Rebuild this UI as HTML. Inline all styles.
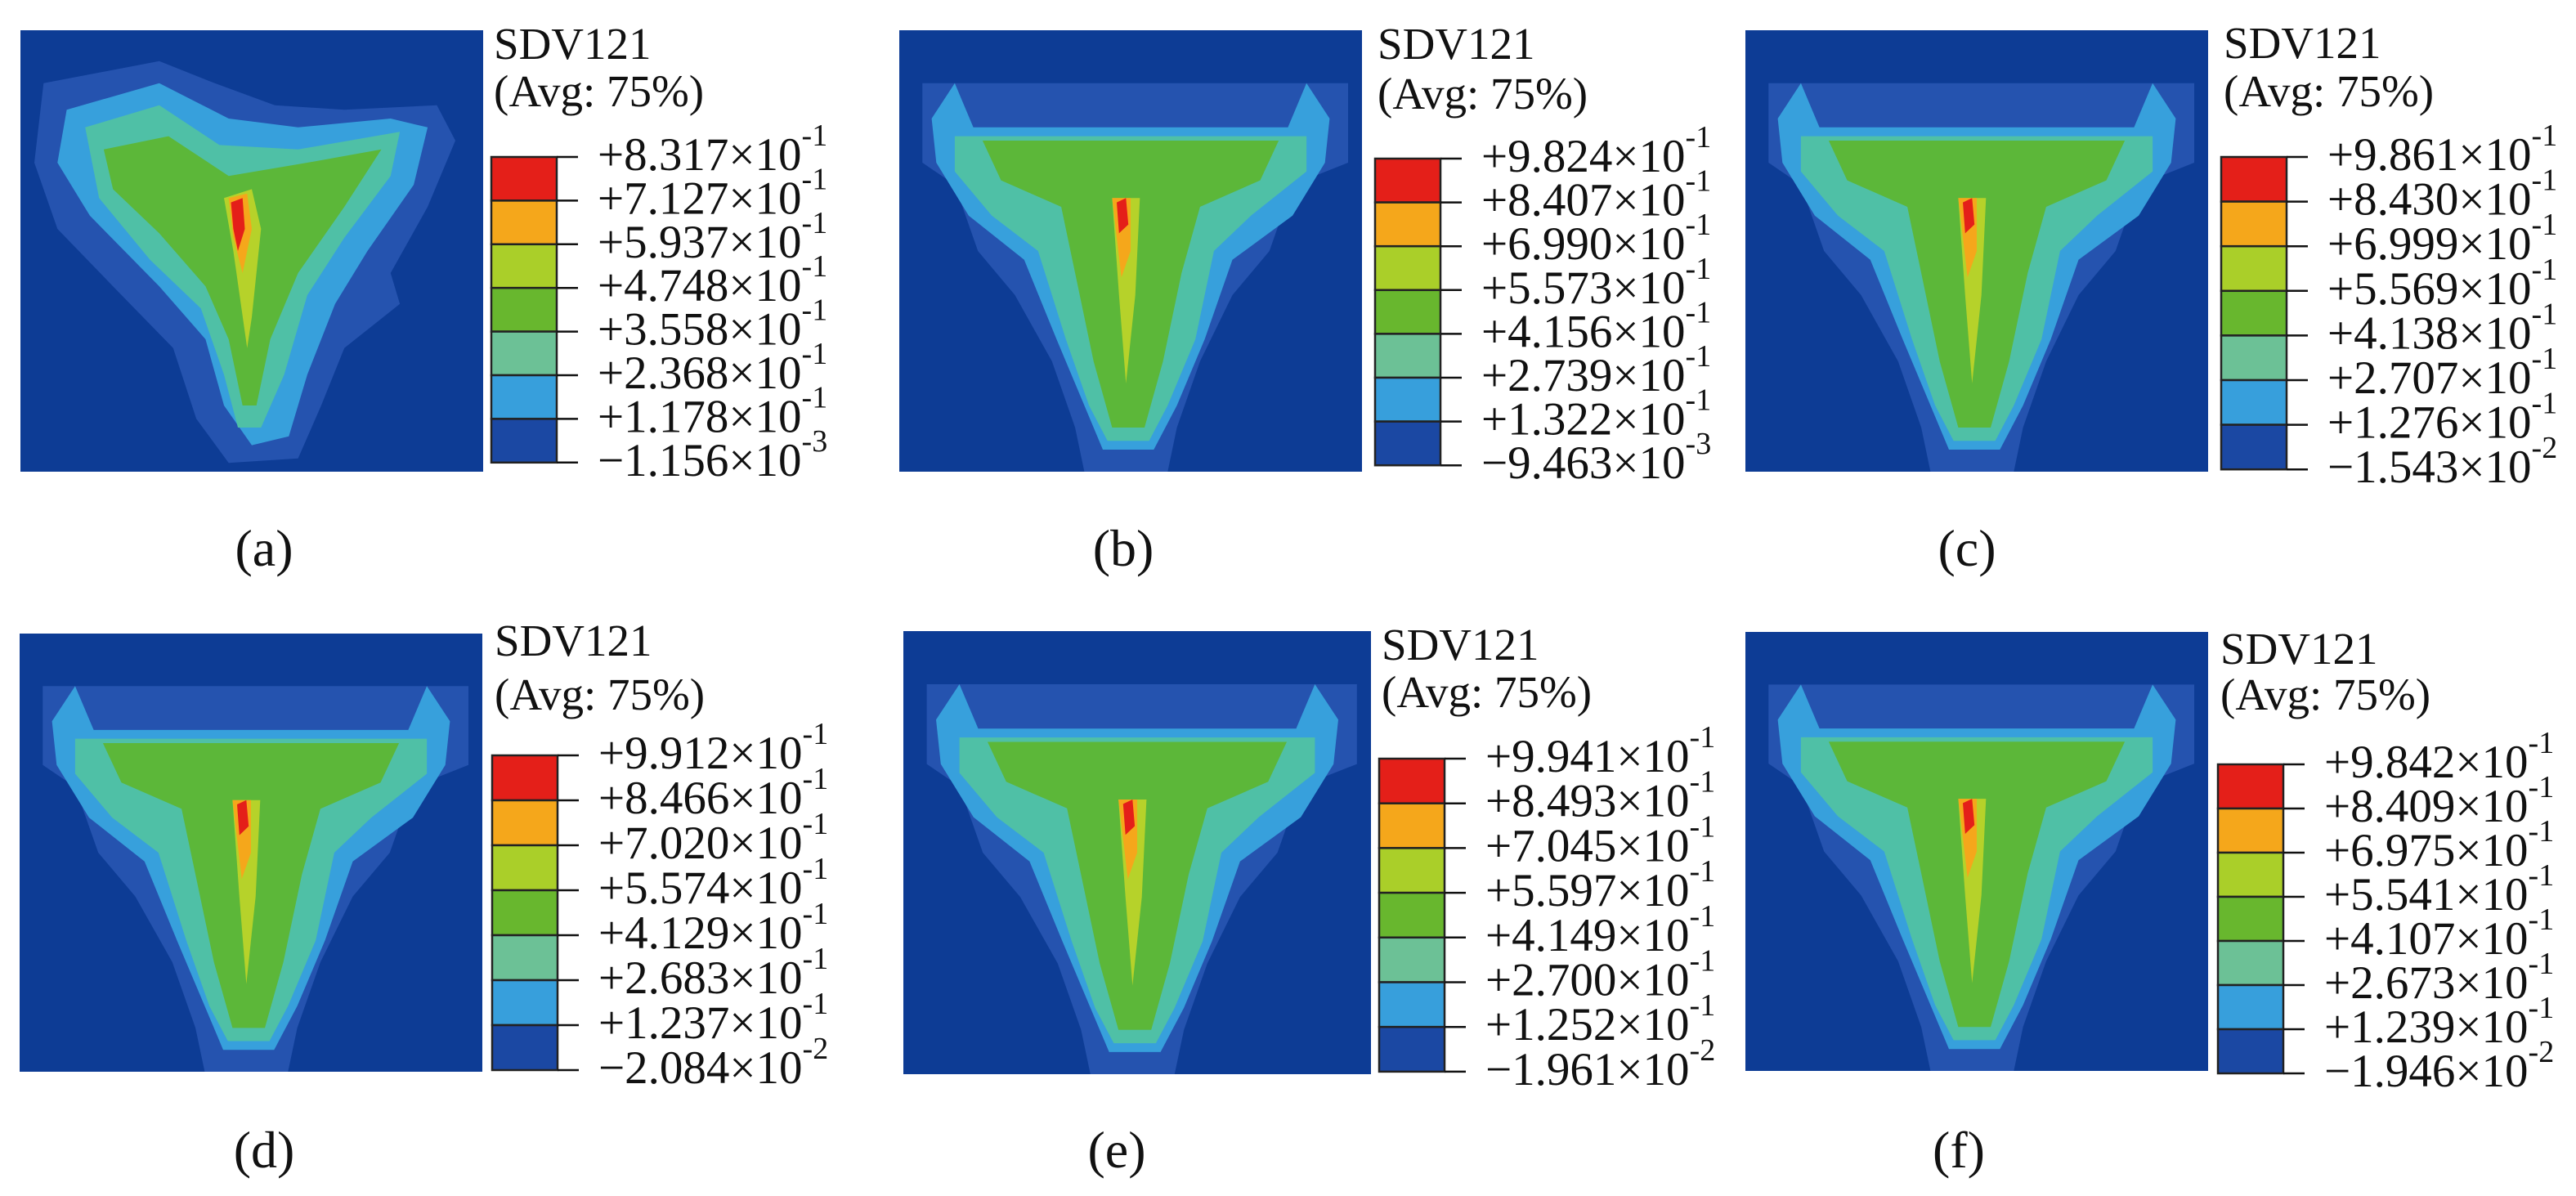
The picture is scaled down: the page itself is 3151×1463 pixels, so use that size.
<!DOCTYPE html>
<html><head><meta charset="utf-8">
<style>
html,body{margin:0;padding:0;background:#fff;}
svg{display:block;}
svg text{font-family:"Liberation Serif","Times New Roman","DejaVu Serif",serif;fill:#111;}
</style></head>
<body>
<svg id="fig" width="3151" height="1463" viewBox="0 0 3151 1463" xmlns="http://www.w3.org/2000/svg"></svg>
<script>
// ---- legend data (per panel) ----
const labelsA = ["+8.317","+7.127","+5.937","+4.748","+3.558","+2.368","+1.178","\u22121.156"];
const expsA   = ["-1","-1","-1","-1","-1","-1","-1","-3"];
const labelsB = ["+9.824","+8.407","+6.990","+5.573","+4.156","+2.739","+1.322","\u22129.463"];
const expsB   = ["-1","-1","-1","-1","-1","-1","-1","-3"];
const labelsC = ["+9.861","+8.430","+6.999","+5.569","+4.138","+2.707","+1.276","\u22121.543"];
const expsC   = ["-1","-1","-1","-1","-1","-1","-1","-2"];
const labelsD = ["+9.912","+8.466","+7.020","+5.574","+4.129","+2.683","+1.237","\u22122.084"];
const expsD   = ["-1","-1","-1","-1","-1","-1","-1","-2"];
const labelsE = ["+9.941","+8.493","+7.045","+5.597","+4.149","+2.700","+1.252","\u22121.961"];
const expsE   = ["-1","-1","-1","-1","-1","-1","-1","-2"];
const labelsF = ["+9.842","+8.409","+6.975","+5.541","+4.107","+2.673","+1.239","\u22121.946"];
const expsF   = ["-1","-1","-1","-1","-1","-1","-1","-2"];
const captions = ["(a)","(b)","(c)","(d)","(e)","(f)"];
const levelColors = ["#e41f19","#f5a71b","#aacf29","#68b72e","#6cc196","#379fdc","#1b48a3"];

// ---- contour shapes in normalized plot coords ----
const shapeY = [
 {c:"#2553af",p:[[0.05,0.12],[0.3,0.07],[0.42,0.12],[0.55,0.17],[0.7,0.18],[0.9,0.17],[0.94,0.25],[0.88,0.4],[0.8,0.55],[0.82,0.62],[0.7,0.72],[0.65,0.85],[0.6,0.97],[0.45,0.98],[0.38,0.88],[0.33,0.72],[0.2,0.58],[0.08,0.45],[0.03,0.3]]},
 {c:"#37a0dc",p:[[0.1,0.18],[0.3,0.12],[0.45,0.2],[0.6,0.22],[0.8,0.2],[0.88,0.22],[0.85,0.35],[0.75,0.5],[0.68,0.62],[0.62,0.78],[0.58,0.92],[0.5,0.94],[0.44,0.85],[0.4,0.7],[0.3,0.58],[0.15,0.42],[0.08,0.3]]},
 {c:"#4fc0a6",p:[[0.14,0.22],[0.3,0.17],[0.43,0.26],[0.6,0.27],[0.82,0.23],[0.8,0.33],[0.7,0.47],[0.62,0.6],[0.57,0.78],[0.52,0.9],[0.47,0.9],[0.44,0.78],[0.39,0.63],[0.28,0.52],[0.17,0.38]]},
 {c:"#5cb739",p:[[0.18,0.27],[0.32,0.24],[0.45,0.33],[0.62,0.3],[0.78,0.27],[0.7,0.4],[0.6,0.55],[0.54,0.7],[0.51,0.85],[0.48,0.85],[0.45,0.7],[0.4,0.58],[0.3,0.46],[0.2,0.36]]},
 {c:"#b6d22a",p:[[0.44,0.38],[0.5,0.36],[0.52,0.45],[0.5,0.65],[0.49,0.72],[0.46,0.5]]},
 {c:"#f5a71b",p:[[0.45,0.38],[0.49,0.37],[0.5,0.45],[0.48,0.55],[0.46,0.47]]},
 {c:"#e41f19",p:[[0.455,0.39],[0.48,0.38],[0.485,0.45],[0.47,0.5],[0.46,0.45]]}
];
const shapeT = [
 {c:"#2553af",p:[[0.05,0.12],[0.97,0.12],[0.97,0.3],[0.85,0.35],[0.8,0.5],[0.72,0.6],[0.65,0.75],[0.6,0.9],[0.58,1.0],[0.4,1.0],[0.38,0.9],[0.33,0.75],[0.25,0.6],[0.17,0.5],[0.12,0.35],[0.05,0.3]]},
 {c:"#37a0dc",p:[[0.07,0.2],[0.12,0.12],[0.16,0.22],[0.84,0.22],[0.88,0.12],[0.93,0.2],[0.92,0.3],[0.85,0.42],[0.72,0.52],[0.66,0.7],[0.6,0.85],[0.55,0.95],[0.44,0.95],[0.4,0.85],[0.34,0.7],[0.27,0.52],[0.15,0.42],[0.08,0.3]]},
 {c:"#4fc0a6",p:[[0.12,0.24],[0.88,0.24],[0.88,0.32],[0.76,0.42],[0.68,0.5],[0.64,0.7],[0.58,0.85],[0.54,0.93],[0.45,0.93],[0.41,0.85],[0.36,0.7],[0.3,0.5],[0.2,0.42],[0.12,0.32]]},
 {c:"#5cb739",p:[[0.18,0.25],[0.82,0.25],[0.78,0.34],[0.65,0.4],[0.61,0.55],[0.57,0.75],[0.53,0.9],[0.46,0.9],[0.42,0.75],[0.38,0.55],[0.35,0.4],[0.22,0.34]]},
 {c:"#b6d22a",p:[[0.46,0.38],[0.52,0.38],[0.51,0.6],[0.49,0.8],[0.475,0.6]]},
 {c:"#f5a71b",p:[[0.46,0.38],[0.5,0.38],[0.5,0.5],[0.48,0.56]]},
 {c:"#e41f19",p:[[0.47,0.39],[0.49,0.38],[0.495,0.44],[0.475,0.46]]}
];

// ---- layout ----
const panels = [
 {id:"a",labels:labelsA,exps:expsA,shape:shapeY,px:25,py:37,pw:566,ph:540,lx:601,lt:192,ls:53.4,tb:72,ab:130,cx:323,cy:692},
 {id:"b",labels:labelsB,exps:expsB,shape:shapeT,px:1100,py:37,pw:566,ph:540,lx:1682,lt:194,ls:53.6,tb:72,ab:133,cx:1374,cy:692},
 {id:"c",labels:labelsC,exps:expsC,shape:shapeT,px:2135,py:37,pw:566,ph:540,lx:2717,lt:192,ls:54.6,tb:71,ab:130,cx:2406,cy:692},
 {id:"d",labels:labelsD,exps:expsD,shape:shapeT,px:24,py:775,pw:566,ph:536,lx:602,lt:924,ls:55,tb:802,ab:868,cx:323,cy:1428},
 {id:"e",labels:labelsE,exps:expsE,shape:shapeT,px:1105,py:772,pw:572,ph:542,lx:1687,lt:928,ls:54.7,tb:807,ab:865,cx:1366,cy:1428},
 {id:"f",labels:labelsF,exps:expsF,shape:shapeT,px:2135,py:773,pw:566,ph:537,lx:2713,lt:935,ls:54,tb:812,ab:868,cx:2396,cy:1428}
];
const NS="http://www.w3.org/2000/svg";
const FONT='"Liberation Serif", "Times New Roman", "DejaVu Serif", serif';
const svg=document.getElementById('fig');
function mk(tag,attrs,parent){const e=document.createElementNS(NS,tag);for(const k in attrs)e.setAttribute(k,attrs[k]);if(tag==='text')e.setAttribute('font-family',FONT);(parent||svg).appendChild(e);return e;}

panels.forEach(P=>{
  const g=mk('g',{});
  
  
  const xs=v=>P.px+v*P.pw, ys=v=>P.py+v*P.ph;
  const bg=mk('rect',{x:P.px,y:P.py,width:P.pw,height:P.ph,fill:"#0d3c95"},g);
  
  
  P.shape.forEach((s,i)=>{
    const pol=mk('polygon',{points:s.p.map(q=>xs(q[0]).toFixed(1)+','+ys(q[1]).toFixed(1)).join(' '),fill:s.c},g);
    
    
  });
  const t1=mk('text',{x:P.lx+3,y:P.tb,'font-size':55},g);t1.textContent="SDV121";
  
  
  const t2=mk('text',{x:P.lx+3,y:P.ab,'font-size':55},g);t2.textContent="(Avg: 75%)";
  
  
  levelColors.forEach((c,i)=>{
    const r=mk('rect',{x:P.lx,y:P.lt+i*P.ls,width:80,height:P.ls,fill:c,stroke:"#222","stroke-width":2.5},g);
    
    
  });
  P.labels.forEach((lab,i)=>{
    const y=P.lt+i*P.ls;
    const ln=mk('line',{x1:P.lx+80,x2:P.lx+106,y1:y,y2:y,stroke:"#111","stroke-width":2.5},g);
    
    
    const t=mk('text',{x:P.lx+130,y:y+16,'font-size':57},g);
    t.textContent=lab+"\u00d710";
    
    
    const sp=mk('tspan',{'font-size':38,dy:-30},t);sp.textContent=P.exps[i];
  });
  const cap=mk('text',{x:P.cx,y:P.cy,'font-size':64,'text-anchor':'middle'},g);
  cap.textContent=captions[panels.indexOf(P)];
  
  
});
</script>
</body></html>
